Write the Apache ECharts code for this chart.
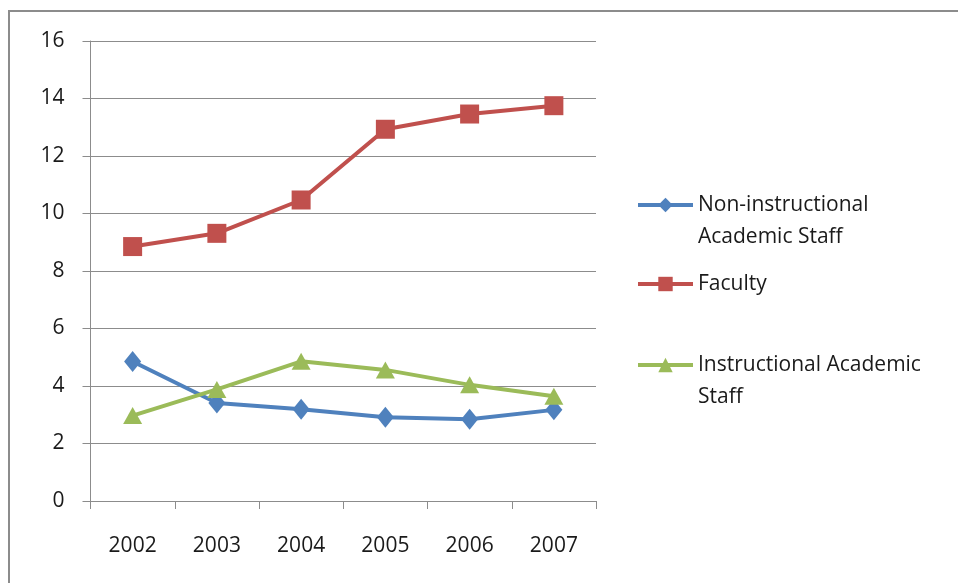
<!DOCTYPE html>
<html>
<head>
<meta charset="utf-8">
<script src="https://cdn.jsdelivr.net/npm/echarts@6/dist/echarts.min.js"></script>
<style>
html,body{margin:0;padding:0;background:#fff;}
#chart{width:958px;height:583px;}
</style>
</head>
<body>
<div id="chart"></div>
<script>
const years = ['2002', '2003', '2004', '2005', '2006', '2007'];
const nonInstructional = [4.85, 3.41, 3.19, 2.91, 2.84, 3.17];
const faculty = [8.85, 9.31, 10.47, 12.93, 13.46, 13.75];
const instructional = [2.97, 3.88, 4.86, 4.56, 4.04, 3.64];
const yTicks = { min: 0, max: 16, interval: 2 };

const seriesNames = ['Non-instructional Academic Staff', 'Faculty', 'Instructional Academic Staff'];
// leading blank line keeps the legend icon level with the first text line
const legendLabels = {
  'Non-instructional Academic Staff': '\nNon-instructional\nAcademic Staff',
  'Faculty': 'Faculty',
  'Instructional Academic Staff': '\nInstructional Academic\nStaff'
};

const FONT = 'Open Sans';
const chart = echarts.init(document.getElementById('chart'), null, { renderer: 'canvas' });

function legendFor(name, top) {
  return {
    data: [name],
    orient: 'vertical',
    left: 636,
    top: top,
    padding: 0,
    itemWidth: 55,
    itemHeight: 18,
    itemGap: 0,
    selectedMode: false,
    lineStyle: { width: 4 },
    formatter: function (n) { return legendLabels[n]; },
    textStyle: {
      fontFamily: FONT,
      fontSize: 21,
      color: '#1a1a1a',
      lineHeight: 32
    }
  };
}

const option = {
  animation: false,
  backgroundColor: '#ffffff',
  graphic: [{
    type: 'rect',
    shape: { x: 9, y: 11, width: 1000, height: 600 },
    style: { fill: 'none', stroke: '#8c8c8c', lineWidth: 2 },
    silent: true
  }],
  grid: { left: 90.5, right: 362, top: 41, bottom: 82, containLabel: false },
  legend: [
    legendFor(seriesNames[0], 157),
    legendFor(seriesNames[1], 268),
    legendFor(seriesNames[2], 317)
  ],
  xAxis: {
    type: 'category',
    data: years,
    boundaryGap: true,
    axisLine: { lineStyle: { color: '#8c8c8c', width: 1 } },
    axisTick: { show: true, length: 8, alignWithLabel: false, lineStyle: { color: '#8c8c8c' } },
    axisLabel: { margin: 35, fontFamily: FONT, fontSize: 21, color: '#1a1a1a' },
    splitLine: { show: false }
  },
  yAxis: {
    type: 'value',
    min: yTicks.min,
    max: yTicks.max,
    interval: yTicks.interval,
    axisLine: { show: true, lineStyle: { color: '#8c8c8c', width: 1 } },
    axisTick: { show: true, length: 8, lineStyle: { color: '#8c8c8c' } },
    axisLabel: { margin: 26, fontFamily: FONT, fontSize: 21, color: '#1a1a1a' },
    splitLine: { show: true, lineStyle: { color: '#8c8c8c', width: 1 } }
  },
  series: [
    {
      name: seriesNames[0], type: 'line', data: nonInstructional,
      symbol: 'diamond', symbolSize: [17, 21],
      lineStyle: { color: '#4F81BD', width: 4 },
      itemStyle: { color: '#4F81BD' }
    },
    {
      name: seriesNames[1], type: 'line', data: faculty,
      symbol: 'rect', symbolSize: 19,
      lineStyle: { color: '#C0504D', width: 4 },
      itemStyle: { color: '#C0504D' }
    },
    {
      name: seriesNames[2], type: 'line', data: instructional,
      symbol: 'triangle', symbolSize: [19, 17],
      lineStyle: { color: '#9BBB59', width: 4 },
      itemStyle: { color: '#9BBB59' }
    }
  ]
};
chart.setOption(option);
</script>
</body>
</html>
